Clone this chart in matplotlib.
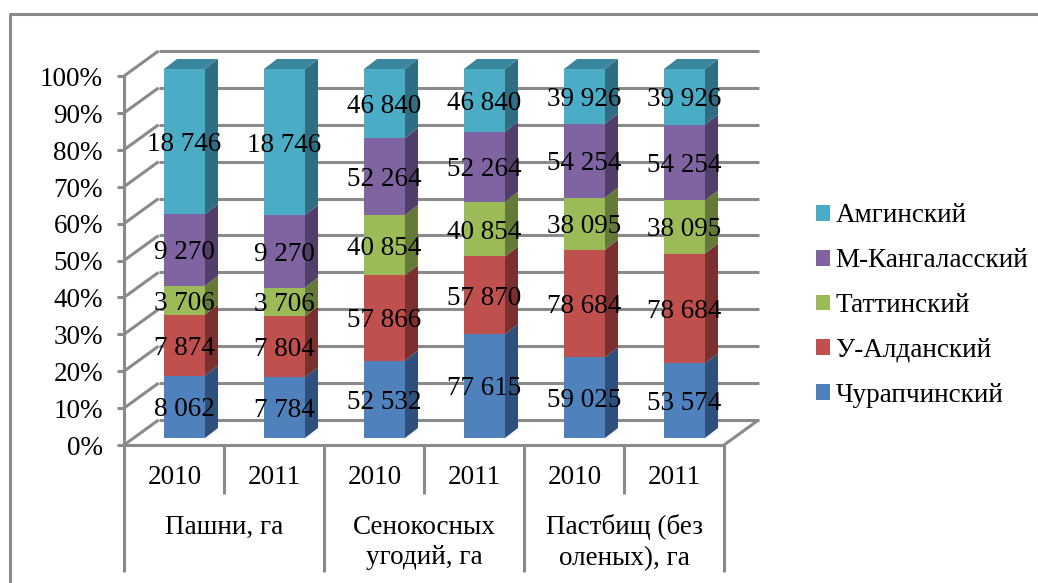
import matplotlib
matplotlib.use("Agg")
import numpy as np
import matplotlib.pyplot as plt
from matplotlib.lines import Line2D
from matplotlib.patches import Polygon, Patch
from matplotlib.transforms import Affine2D

plt.rcParams['font.family'] = ['Liberation Serif', 'DejaVu Serif']

years = ["2010", "2011", "2010", "2011", "2010", "2011"]
groups = ["Пашни, га", "Сенокосных\nугодий, га", "Пастбищ (без\nоленых), га"]
series = ["Чурапчинский", "У-Алданский", "Таттинский", "М-Кангаласский", "Амгинский"]
v_chur = [8062, 7784, 52532, 77615, 59025, 53574]
v_uald = [7874, 7804, 57866, 57870, 78684, 78684]
v_tatt = [3706, 3706, 40854, 40854, 38095, 38095]
v_mkan = [9270, 9270, 52264, 52264, 54254, 54254]
v_amga = [18746, 18746, 46840, 46840, 39926, 39926]
lab_chur = ["8 062", "7 784", "52 532", "77 615", "59 025", "53 574"]
lab_uald = ["7 874", "7 804", "57 866", "57 870", "78 684", "78 684"]
lab_tatt = ["3 706", "3 706", "40 854", "40 854", "38 095", "38 095"]
lab_mkan = ["9 270", "9 270", "52 264", "52 264", "54 254", "54 254"]
lab_amga = ["18 746", "18 746", "46 840", "46 840", "39 926", "39 926"]

values = np.array([v_chur, v_uald, v_tatt, v_mkan, v_amga], dtype=float)
labels = [lab_chur, lab_uald, lab_tatt, lab_mkan, lab_amga]
front = ["#4F81BD", "#C0504D", "#9BBB59", "#8064A2", "#4BACC6"]
side = ["#2F4F7C", "#7A302E", "#647A38", "#523F69", "#2F6E82"]
top_col = "#3A869C"
GRAY = "#8A8A8A"
FS = 19.5

W, H = 1038, 583
fig = plt.figure(figsize=(W / 100, H / 100), dpi=100, facecolor="white")
x0, x1, y0, y1 = 124, 724, 445, 76
ax = fig.add_axes([x0 / W, 1 - y0 / H, (x1 - x0) / W, (y0 - y1) / H])
ax.set_xlim(0, 6)
ax.set_ylim(0, 100)
ax.axis("off")

# oblique depth of the chart box, in data units
DX, DY = 0.345, 25 / 3.69
lw = 2.2
kw = dict(color=GRAY, lw=lw, clip_on=False, solid_capstyle="butt")

ticks = np.arange(0, 101, 10)
for t in ticks:
    ax.plot([DX, 6 + DX], [t + DY, t + DY], zorder=1, **kw)
    ax.plot([0, DX], [t, t + DY], zorder=1, **kw)
    ax.plot([-0.07, 0], [t, t], zorder=2, **kw)
    ax.text(-0.21, t - 0.9, f"{t}%", ha="right", va="center", fontsize=FS, clip_on=False)
ax.plot([0, 0], [0, 100], zorder=2, **kw)
ax.plot([0, 6], [0, 0], zorder=2, **kw)
ax.plot([6, 6 + DX], [0, DY], zorder=1, **kw)

# category separators under the floor
for i in range(7):
    low = -34.4 if i % 2 == 0 else -13.3
    ax.plot([i, i], [0, low], **kw)
for i, y in enumerate(years):
    ax.text(i + 0.505, -8.9, y, ha="center", va="center", fontsize=FS, clip_on=False)
for i, g in enumerate(groups):
    ax.text(2 * i + 1, -26.4 if "\n" in g else -22.2, g, ha="center", va="center",
            fontsize=FS, linespacing=1.3, clip_on=False)

# bars, normalised to 100 %
pct = values / values.sum(axis=0) * 100
bar_tf = Affine2D().translate(0.105, 1.9) + ax.transData
centers = np.arange(6) + 0.5
BW, BDX, BDY = 0.41, 0.13, 2.71
bottom = np.zeros(6)
for s in range(5):
    ax.bar(centers, pct[s], BW, bottom=bottom, color=front[s], lw=0,
           transform=bar_tf, zorder=3, clip_on=False)
    for i, c in enumerate(centers):
        r = c + BW / 2
        b, t = bottom[i], bottom[i] + pct[s][i]
        ax.add_patch(Polygon([(r, b), (r + BDX, b + BDY), (r + BDX, t + BDY), (r, t)],
                             closed=True, fc=side[s], lw=0, transform=bar_tf,
                             zorder=3, clip_on=False))
        if s == 4:
            ax.add_patch(Polygon([(r - BW, t), (r - BW + BDX, t + BDY), (r + BDX, t + BDY), (r, t)],
                                 closed=True, fc=top_col, lw=0, transform=bar_tf,
                                 zorder=3, clip_on=False))
        ax.text(c, b + pct[s][i] / 2 - 0.8, labels[s][i], ha="center", va="center", fontsize=FS,
                transform=bar_tf, zorder=5, clip_on=False)
    bottom = bottom + pct[s]

handles = [Patch(fc=front[s], lw=0, label=series[s]) for s in range(4, -1, -1)]
fig.legend(handles=handles, loc="center left", bbox_to_anchor=(816 / W, 1 - 305.5 / H),
           frameon=False, fontsize=FS, handlelength=0.52, handleheight=0.52,
           handletextpad=0.2, labelspacing=0.73, borderpad=0, borderaxespad=0)

# outer chart frame, cut off by the image on two sides
fig.add_artist(Line2D([9.5 / W, 9.5 / W, 1], [0, 1 - 14 / H, 1 - 14 / H],
                      color=GRAY, lw=2.2, transform=fig.transFigure))

fig.savefig("out.png", dpi=100, facecolor="white")
